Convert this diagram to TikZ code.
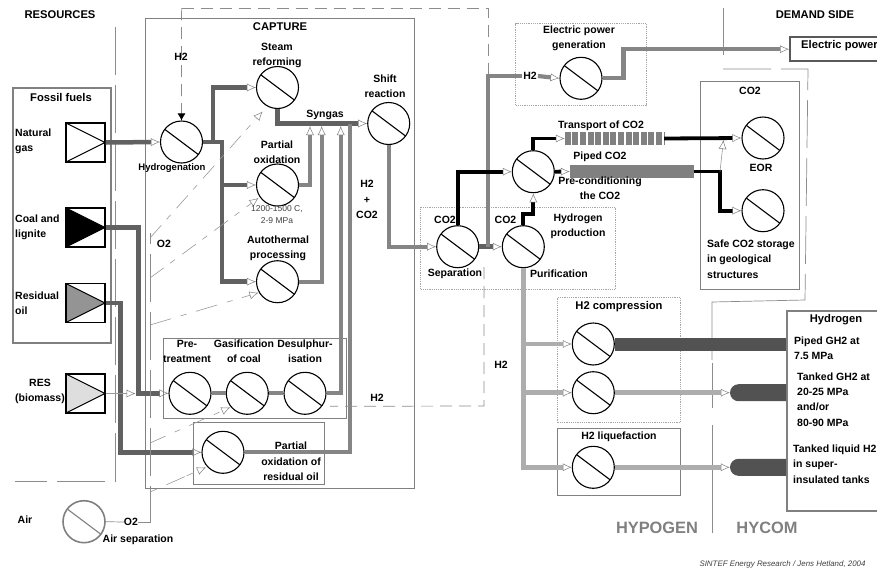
\documentclass[tikz,border=0pt]{standalone}
\usepackage{fontspec}
\setmainfont{Liberation Sans}
\usetikzlibrary{arrows.meta,calc,shapes.misc}
\tikzset{
  opentip/.tip={Latex[open,length=9pt,width=8pt,line width=.5pt,color=black!50]},
  lbl/.style={font=\bfseries\fontsize{10.5}{15.3}\selectfont, align=center, inner sep=0pt, text=black},
  lblleft/.style={lbl, align=left, anchor=west},
  biglbl/.style={lbl, font=\bfseries\fontsize{11.2}{13}\selectfont},
  process/.style={circle, draw=#1, fill=white, line width=1.1pt, minimum size=42, inner sep=0pt,
    path picture={\draw[#1, line width=1.1pt] (path picture bounding box.center) ++(-16.5,-12.5) -- ++(34,25.5);}},
  process/.default=black,
  source/.style={draw, line width=1.1pt, minimum size=39, inner sep=0pt,
    path picture={\draw[line width=1.1pt, fill=#1] (path picture bounding box.north west)
      -- (path picture bounding box.east) -- (path picture bounding box.south west) -- cycle;}},
  graybox/.style={draw=black!50, line width=1.4pt, anchor=north west, inner sep=0pt},
  dotbox/.style={draw=black!35, line width=1.2pt, densely dotted, anchor=north west, inner sep=0pt},
  darkflow/.style={draw=black!62, line width=4.5pt, -opentip},
  grayflow/.style={draw=black!48, line width=4.2pt, -opentip},
  blackflow/.style={draw=black, line width=3.8pt, -opentip},
  lightflow/.style={draw=black!32, line width=4.5pt, -opentip},
  thinflow/.style={draw=black!40, line width=.6pt, -opentip},
  dashline/.style={draw=black!45, line width=.7pt, dash pattern=on 12pt off 7pt},
  longdash/.style={draw=black!45, line width=.7pt, dash pattern=on 48pt off 10pt},
  tank/.style={rounded rectangle, rounded rectangle east arc=none, fill=black!68, minimum width=56, minimum height=17, inner sep=0pt},
}
\begin{document}
\begin{tikzpicture}[x=1pt,y=-1pt]
\clip (0,0) rectangle (877,568);

% Region borders
\draw[dashline] (181.6,8) -- (488,8) -- (488,250);
\draw[longdash] (115,27) -- (115,481) -- (15,481);
\draw[draw=black!45, line width=.7pt] (723,8) -- (723,55);
\draw[longdash] (723,69) -- (808,69) -- (805,300);
\draw[draw=black!45, line width=.7pt] (805,300) -- (712,302) -- (712,360);
\draw[draw=black!45, line width=.7pt] (712,363) -- (712,408);
\draw[draw=black!45, line width=.7pt] (712,425) -- (712,533);

% Boxes
\node[graybox, minimum width=98, minimum height=255, line width=2pt] (fossil) at (12,87) {};
\node[graybox, minimum width=269, minimum height=470] (capture) at (145,18) {};
\node[graybox, minimum width=183, minimum height=80] (prebox) at (163,338) {};
\node[graybox, minimum width=131, minimum height=62] (residbox) at (193,422) {};
\node[dotbox, minimum width=195, minimum height=82] (prodbox) at (420,207) {};
\node[dotbox, minimum width=131, minimum height=82] (genbox) at (515,23) {};
\node[graybox, minimum width=99, minimum height=208] (storebox) at (700,81) {};
\node[dotbox, minimum width=123, minimum height=125] (compbox) at (557,297) {};
\node[graybox, minimum width=123, minimum height=67] (liqbox) at (557,428) {};
\node[graybox, minimum width=110, minimum height=200, line width=2.4pt] (hydrogenbox) at (786,310) {};
\node[draw=black!65, line width=2.4pt, anchor=north west, minimum width=110, minimum height=24, inner sep=0pt] (powerbox) at (789,36) {};

% Resources
\node[source=white] (natgas) at (85.5,142.5) {};
\node[source=black] (coal) at (85.5,227.5) {};
\node[source=black!42] (oil) at (85.5,303) {};
\node[source=black!13] (res) at (85.5,393.5) {};

% Processes
\node[process] (hyd) at (181.5,142) {};
\node[process] (steam) at (277.5,87.5) {};
\node[process] (part) at (277.5,185) {};
\node[process] (auto) at (277.5,281.7) {};
\node[process] (shift) at (388.7,123.5) {};
\node[process] (pre) at (190,393.3) {};
\node[process] (gasif) at (247.3,393.3) {};
\node[process] (desul) at (305,393.3) {};
\node[process] (resid) at (223,452.3) {};
\node[process] (sep) at (457.7,246.7) {};
\node[process] (pur) at (523.3,246.7) {};
\node[process] (cond) at (533.3,171.7) {};
\node[process] (gen) at (581,78.3) {};
\node[process] (eor) at (763,138) {};
\node[process] (store) at (763,210.7) {};
\node[process] (compa) at (593.3,344) {};
\node[process] (compb) at (593.3,392.7) {};
\node[process] (liq) at (593.3,467.3) {};
\node[process=black!50, line width=1.6pt] (airsep) at (84,521.7) {};

% Pipes and tanks
\node[minimum width=99, minimum height=13, inner sep=0pt] (transpipe) at (614.5,138.5) {};
\draw[draw=black!50, line width=13pt, dash pattern=on 6pt off 1.6pt] (transpipe.west) -- (transpipe.east);
\node[fill=black!50, minimum width=124, minimum height=13, inner sep=0pt] (pipedpipe) at (632,171.5) {};
\node[tank] (tanka) at (758,392.7) {};
\node[tank] (tankb) at (758,467.3) {};

% Bus points
\coordinate (hydbus) at (222,142);
\coordinate (busa) at (310,126);
\coordinate (busb) at (321.7,126);
\coordinate (busc) at (340.7,126);
\coordinate (busd) at (350,123.5);
\coordinate (sepbus) at (488,246.7);
\coordinate (storebus) at (720,171.5);
\coordinate (eortip) at (723.5,140);
\coordinate (h2bus) at (523.3,344);
\coordinate (h2busb) at (523.3,392.7);
\coordinate (o2bus) at (150,522);
\coordinate (o2top) at (150,233);

% Fuel feeds
\draw[darkflow] (natgas.east) -- (hyd.west);
\draw[darkflow] (hyd.east) -- ++(10,0) |- (steam.west);
\draw[darkflow] (hyd.east) -- (hydbus) |- (part.west);
\draw[darkflow] (hydbus) |- (auto.west);
\draw[darkflow] (coal.east) -- ++(33,0) |- (pre.west);
\draw[darkflow] (oil.east) -- ++(15,0) |- (resid.west);
\draw[thinflow] (res.east) -- ++(30,0);

% Syngas
\draw[darkflow] (steam.south) |- (shift.west);
\draw[grayflow] (part.east) -| (busa);
\draw[grayflow] (auto.east) -| (busb);
\draw[grayflow] (desul.east) -| (busc);
\draw[grayflow, -] (resid.east) -| (busd);
\draw[grayflow, -] (pre.east) -- (gasif.west);
\draw[grayflow, -] (gasif.east) -- (desul.west);
\draw[grayflow] (shift.south) |- (sep.west);

% Hydrogen to power
\draw[dashline] (484,267) -- (484,406) -- ($(desul.center)+(25,13)$);
\node[lbl, fill=white, inner xsep=1pt] (h2power) at (530,76) {H2};
\draw[darkflow] (sep.east) -- (pur.west);
\draw[grayflow, -] (sepbus) |- (h2power.west);
\draw[grayflow] (h2power.east) -- (gen.west);
\draw[grayflow] (gen.east) -- ++(21,0) |- (powerbox.west);

% CO2 chain
\draw[blackflow] (sep.north) |- (cond.west);
\draw[blackflow] (pur.north) -- ++(0,-11) -| (cond.south);
\draw[blackflow] (cond.north) |- (transpipe.west);
\draw[blackflow] (cond.east) -- (pipedpipe.west);
\draw[blackflow] (transpipe.east) -- (eor.west);
\draw[blackflow] (pipedpipe.east) -| (storebus) |- (store.west);
\draw[thinflow] (storebus) -- (eortip);

% Hydrogen chain
\draw[lightflow] (pur.south) |- (liq.west);
\draw[lightflow] (h2bus) -- (compa.west);
\draw[lightflow] (h2busb) -- (compb.west);
\draw[draw=black!68, line width=13pt] (compa.east) -- (compa.east -| hydrogenbox.west);
\draw[lightflow] (compb.east) -- (tanka.west);
\draw[lightflow] (liq.east) -- (tankb.west);

% Oxygen lines
\node[lbl] (o2air) at (131,522) {O2};
\draw[draw=black!45, line width=.7pt] (airsep.east) -- (o2air.west);
\draw[longdash] (o2air.east) -- (o2bus) -- (o2top);
\draw[thinflow, dash pattern=on 17pt off 8pt on 6pt off 9pt] (150,238) -- ($(steam.center)+(-15,24)$);
\draw[thinflow, dash pattern=on 17pt off 8pt on 6pt off 9pt] (150,278) -- ($(part.center)+(-19,13)$);
\draw[thinflow, dash pattern=on 22pt off 10pt on 6pt off 10pt] (150,325) -- ($(auto.center)+(-19,11)$);
\draw[thinflow, dash pattern=on 17pt off 10pt on 6pt off 10pt] (150,443) -- ($(gasif.center)+(-17,14)$);
\draw[thinflow, dash pattern=on 8pt off 10pt on 20pt off 2pt] (150,492) -- ($(resid.center)+(-17,15)$);
\draw[dashline, -{Latex[length=7pt,width=8pt,color=black]}] (181.6,8) -- (hyd.north);

% Labels
\node[biglbl] (resources) at (60,15) {RESOURCES};
\node[biglbl] (capturelbl) at (280,27) {CAPTURE};
\node[biglbl] (demand) at (815,15) {DEMAND SIDE};
\node[biglbl] (fossillbl) at (61,97) {Fossil fuels};
\node[lblleft] (natlbl) at (15,141.5) {Natural\\gas};
\node[lblleft] (coallbl) at (15,227.5) {Coal and\\lignite};
\node[lblleft] (oillbl) at (15,303.5) {Residual\\oil};
\node[lbl] (reslbl) at (40,391.5) {RES\\(biomass)};
\node[lbl] (airlbl) at (25,520) {Air};
\node[lbl] (airseplbl) at (138,540) {Air separation};
\node[lbl] (h2top) at (181,57) {H2};
\node[lbl] (o2lbl) at (164,244) {O2};
\node[lbl] (steamlbl) at (277,55.5) {Steam\\reforming};
\node[lbl, font=\bfseries\fontsize{9.5}{12}\selectfont] (hydlbl) at (172,168) {Hydrogenation};
\node[lbl] (partlbl) at (277,152) {Partial\\oxidation};
\node[lbl, font=\fontsize{8.5}{12}\selectfont, text=black!75] (partnote) at (277,215) {1200-1500 C,\\2-9 MPa};
\node[lbl] (autolbl) at (278,248.5) {Autothermal\\processing};
\node[lbl] (syngas) at (325,115) {Syngas};
\node[lbl] (shiftlbl) at (385,86) {Shift\\reaction};
\node[lbl] (h2co2) at (367,199.5) {H2\\+\\CO2};
\node[lbl] (h2return) at (377,398) {H2};
\node[lbl] (co2a) at (445,220) {CO2};
\node[lbl] (co2b) at (505.5,220) {CO2};
\node[lbl] (prodlbl) at (578,226) {Hydrogen\\production};
\node[lbl] (seplbl) at (455,274) {Separation};
\node[lbl] (purlbl) at (559,274) {Purification};
\node[lbl] (genlbl) at (579,38) {Electric power\\generation};
\node[lbl] (translbl) at (601,126) {Transport of CO2};
\node[lbl] (pipedlbl) at (600,157) {Piped CO2};
\node[lbl] (condlbl) at (600,188.5) {Pre-conditioning\\the CO2};
\node[lbl] (co2c) at (750,91) {CO2};
\node[lbl] (eorlbl) at (761,168) {EOR};
\node[lblleft] (storelbl) at (707,259) {Safe CO2 storage\\in geological\\structures};
\node[biglbl] (complbl) at (619,307) {H2 compression};
\node[lbl] (liqlbl) at (619,437) {H2 liquefaction};
\node[lbl] (h2lbl) at (501,365) {H2};
\node[biglbl] (hydrogenlbl) at (836,320) {Hydrogen};
\node[lblleft] (pipedgh) at (794,348.5) {Piped GH2 at\\7.5 MPa};
\node[lblleft] (tankedgh) at (797,399.5) {Tanked GH2 at\\20-25 MPa\\and/or\\80-90 MPa};
\node[lblleft] (tankedliq) at (793,464) {Tanked liquid H2\\in super-\\insulated tanks};
\node[biglbl, anchor=west] (powerlbl) at (801,46) {Electric power};
\node[lbl] (prelbl) at (187,351.5) {Pre-\\treatment};
\node[lbl] (gasiflbl) at (244,351.5) {Gasification\\of coal};
\node[lbl] (desullbl) at (305,351.5) {Desulphur-\\isation};
\node[lbl] (residlbl) at (291,461.5) {Partial\\oxidation of\\residual oil};
\node[lbl, font=\bfseries\fontsize{16.4}{18}\selectfont, text=black!50] (hypogen) at (657,528) {HYPOGEN};
\node[lbl, font=\bfseries\fontsize{16.4}{18}\selectfont, text=black!50] (hycom) at (767,528) {HYCOM};
\node[lbl, font=\itshape\fontsize{7.9}{9}\selectfont, text=black!75] (credit) at (782.5,564) {SINTEF Energy Research / Jens Hetland, 2004};
\end{tikzpicture}
\end{document}
